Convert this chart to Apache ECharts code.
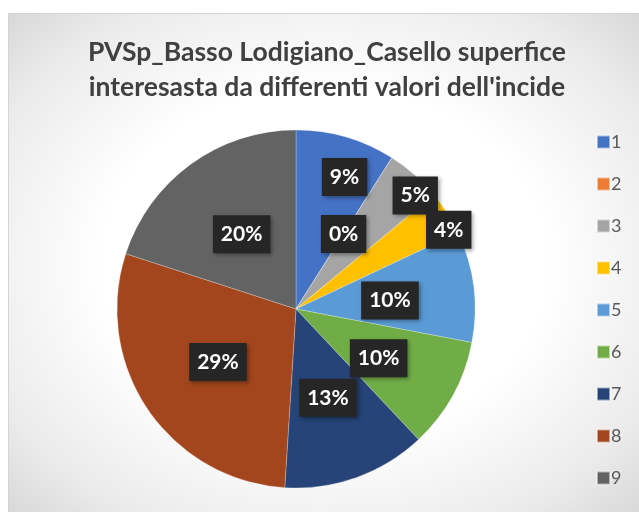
<!DOCTYPE html>
<html>
<head>
<meta charset="utf-8">
<script src="https://cdn.jsdelivr.net/npm/echarts@6/dist/echarts.min.js"></script>
<style>
  html, body { margin: 0; padding: 0; background: #fff; }
  #bg {
    position: absolute; left: 8px; top: 13px; width: 631px; height: 499px;
    border-top: 1px solid #d4d4d4; border-left: 1px solid #d4d4d4;
    background: radial-gradient(ellipse at 50% 50%, #ffffff 50%, #ebebeb 82%, #d8d8d8 100%);
  }
  #chart { position: absolute; left: 0; top: 0; width: 639px; height: 512px; }
</style>
</head>
<body>
<div id="bg"></div>
<div id="chart"></div>
<script>
const titleText = "PVSp_Basso Lodigiano_Casello superfice\ninteresasta da differenti valori dell'incide"
const categories = ['1', '2', '3', '4', '5', '6', '7', '8', '9']
const values = [9, 0, 5, 4, 10, 10, 13, 29, 20]
const colors = ['#4472C4', '#ED7D31', '#A5A5A5', '#FFC000', '#5B9BD5', '#70AD47', '#264478', '#A3461E', '#636363']

// label placement tweaks (Excel "best fit" look): share of radius, extra clockwise turn in degrees
const labelRadius = [0.76, 0.48, 0.89, 0.93, 0.51, 0.52, 0.51, 0.51, 0.5]
const labelTurn = [4, 0, 5, 5, 2, 2, 0, 0, 0]

const pieCenter = [296, 309]
const pieR = 179

const chart = echarts.init(document.getElementById('chart'))

chart.setOption({
  color: colors,
  title: {
    text: titleText,
    left: 322,
    textAlign: 'center',
    top: 30,
    textStyle: {
      fontFamily: 'Lato',
      fontWeight: 'bold',
      fontSize: 26.5,
      lineHeight: 35,
      color: '#404040'
    }
  },
  legend: {
    orient: 'vertical',
    left: 591,
    top: 128,
    itemWidth: 13,
    itemHeight: 13,
    itemGap: 24,
    icon: 'rect',
    textStyle: {
      fontFamily: 'Lato',
      fontSize: 18,
      lineHeight: 17,
      color: '#595959',
      padding: [0, 0, 0, -4]
    },
    data: categories
  },
  series: [
    {
      type: 'pie',
      center: pieCenter,
      radius: [0, pieR],
      startAngle: 90,
      percentPrecision: 0,
      avoidLabelOverlap: false,
      silent: true,
      itemStyle: {
        borderColor: 'rgba(255,255,255,0.5)',
        borderWidth: 0.5
      },
      label: {
        show: true,
        position: 'inside',
        formatter: '{d}%',
        fontFamily: 'Lato',
        fontWeight: 'bold',
        fontSize: 21,
        color: '#fff',
        backgroundColor: '#262626',
        padding: [9, 8, 8, 8],
        shadowColor: 'rgba(0,0,0,0.35)',
        shadowBlur: 4,
        shadowOffsetX: 2,
        shadowOffsetY: 2
      },
      labelLayout: function (p) {
        const r = p.labelRect
        const cx = r.x + r.width / 2 - pieCenter[0]
        const cy = r.y + r.height / 2 - pieCenter[1]
        const k = labelRadius[p.dataIndex] / 0.5
        const a = labelTurn[p.dataIndex] * Math.PI / 180
        const nx = (cx * Math.cos(a) - cy * Math.sin(a)) * k
        const ny = (cx * Math.sin(a) + cy * Math.cos(a)) * k
        return {
          hideOverlap: false,
          dx: nx - cx,
          dy: ny - cy
        }
      },
      labelLine: { show: false },
      data: categories.map((c, i) => ({ name: c, value: values[i] }))
    }
  ]
})
</script>
</body>
</html>
